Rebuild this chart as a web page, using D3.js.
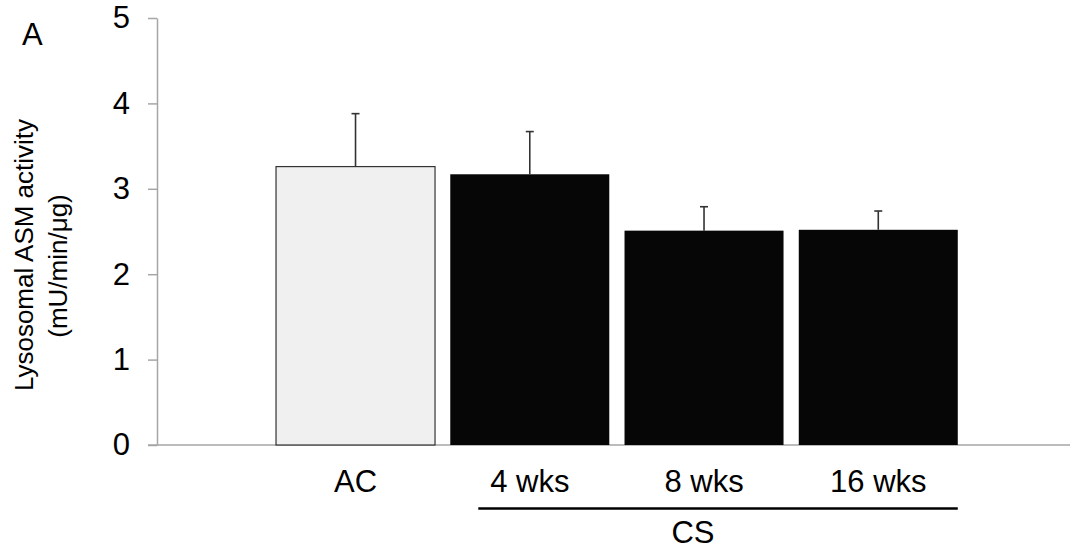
<!DOCTYPE html>
<html>
<head>
<meta charset="utf-8">
<script src="https://cdn.jsdelivr.net/npm/d3@7"></script>
<style>
  body { margin: 0; background: #fff; }
  svg { display: block; font-family: "Liberation Sans", Arial, sans-serif; }
</style>
</head>
<body>
<div id="chart"></div>
<script>
// Values
const groups = ["AC", "4 wks", "8 wks", "16 wks"];
const means = [3.26, 3.17, 2.51, 2.52];
const errTops = [3.88, 3.67, 2.79, 2.74];
const fills = ["#f0f0f0", "#060606", "#060606", "#060606"];
const yTicks = [0, 1, 2, 3, 4, 5];

const width = 1070, height = 558;

const svg = d3.select("#chart")
  .append("svg")
  .attr("width", width)
  .attr("height", height);

const x = d3.scaleBand()
  .domain(groups)
  .range([268.4, 965.4])
  .paddingInner(0.0875)
  .paddingOuter(0.04375);

const y = d3.scaleLinear()
  .domain([0, 5])
  .range([445, 18]);

const axisColor = "#a6a6a6";

// y axis
const yAxis = svg.append("g")
  .attr("transform", "translate(157,0)")
  .call(d3.axisLeft(y)
    .tickValues(yTicks)
    .tickFormat(d3.format("d"))
    .tickSize(9)
    .tickPadding(18)
    .tickSizeOuter(0));
yAxis.select(".domain").attr("stroke", axisColor).attr("stroke-width", 1.5);
yAxis.selectAll(".tick line").attr("stroke", axisColor).attr("stroke-width", 1.5);
yAxis.selectAll(".tick text")
  .attr("fill", "#000")
  .style("font-size", "31px")
  .style("font-family", "'Liberation Sans', Arial, sans-serif");

// x baseline
svg.append("line")
  .attr("x1", 148).attr("x2", width)
  .attr("y1", y(0)).attr("y2", y(0))
  .attr("stroke", axisColor)
  .attr("stroke-width", 1.5);

// bars
svg.selectAll("rect.bar")
  .data(groups)
  .join("rect")
  .attr("class", "bar")
  .attr("x", d => x(d))
  .attr("y", (d, i) => y(means[i]))
  .attr("width", x.bandwidth())
  .attr("height", (d, i) => y(0) - y(means[i]))
  .attr("fill", (d, i) => fills[i])
  .attr("stroke", (d, i) => i === 0 ? "#333" : "none")
  .attr("stroke-width", 1.2);

// error bars (upper only)
const err = svg.append("g").attr("stroke", "#333").attr("stroke-width", 1.6);
err.selectAll("line.stem")
  .data(groups)
  .join("line")
  .attr("class", "stem")
  .attr("x1", d => x(d) + x.bandwidth() / 2)
  .attr("x2", d => x(d) + x.bandwidth() / 2)
  .attr("y1", (d, i) => y(means[i]))
  .attr("y2", (d, i) => y(errTops[i]));
err.selectAll("line.cap")
  .data(groups)
  .join("line")
  .attr("class", "cap")
  .attr("x1", d => x(d) + x.bandwidth() / 2 - 4)
  .attr("x2", d => x(d) + x.bandwidth() / 2 + 4)
  .attr("y1", (d, i) => y(errTops[i]))
  .attr("y2", (d, i) => y(errTops[i]));

// category labels
svg.selectAll("text.cat")
  .data(groups)
  .join("text")
  .attr("class", "cat")
  .attr("x", d => x(d) + x.bandwidth() / 2)
  .attr("y", 492)
  .attr("text-anchor", "middle")
  .style("font-size", "31px")
  .text(d => d);

// CS bracket line
const csGroups = groups.slice(1);
svg.append("line")
  .attr("x1", x(csGroups[0]) + 28)
  .attr("x2", x(csGroups[csGroups.length - 1]) + x.bandwidth())
  .attr("y1", 508.5).attr("y2", 508.5)
  .attr("stroke", "#000")
  .attr("stroke-width", 2.5);

svg.append("text")
  .attr("x", x("8 wks") + x.bandwidth() / 2 - 11)
  .attr("y", 543)
  .attr("text-anchor", "middle")
  .style("font-size", "31px")
  .text("CS");

// y axis title
const yTitle = svg.append("text")
  .attr("transform", "translate(33,255) rotate(-90)")
  .attr("text-anchor", "middle")
  .style("font-size", "26px");
yTitle.append("tspan").attr("x", 0).attr("y", 0).text("Lysosomal ASM activity");
yTitle.append("tspan").attr("x", -11).attr("y", 34).text("(mU/min/μg)");

// panel letter
svg.append("text")
  .attr("x", 22)
  .attr("y", 45)
  .style("font-size", "31px")
  .text("A");
</script>
</body>
</html>
